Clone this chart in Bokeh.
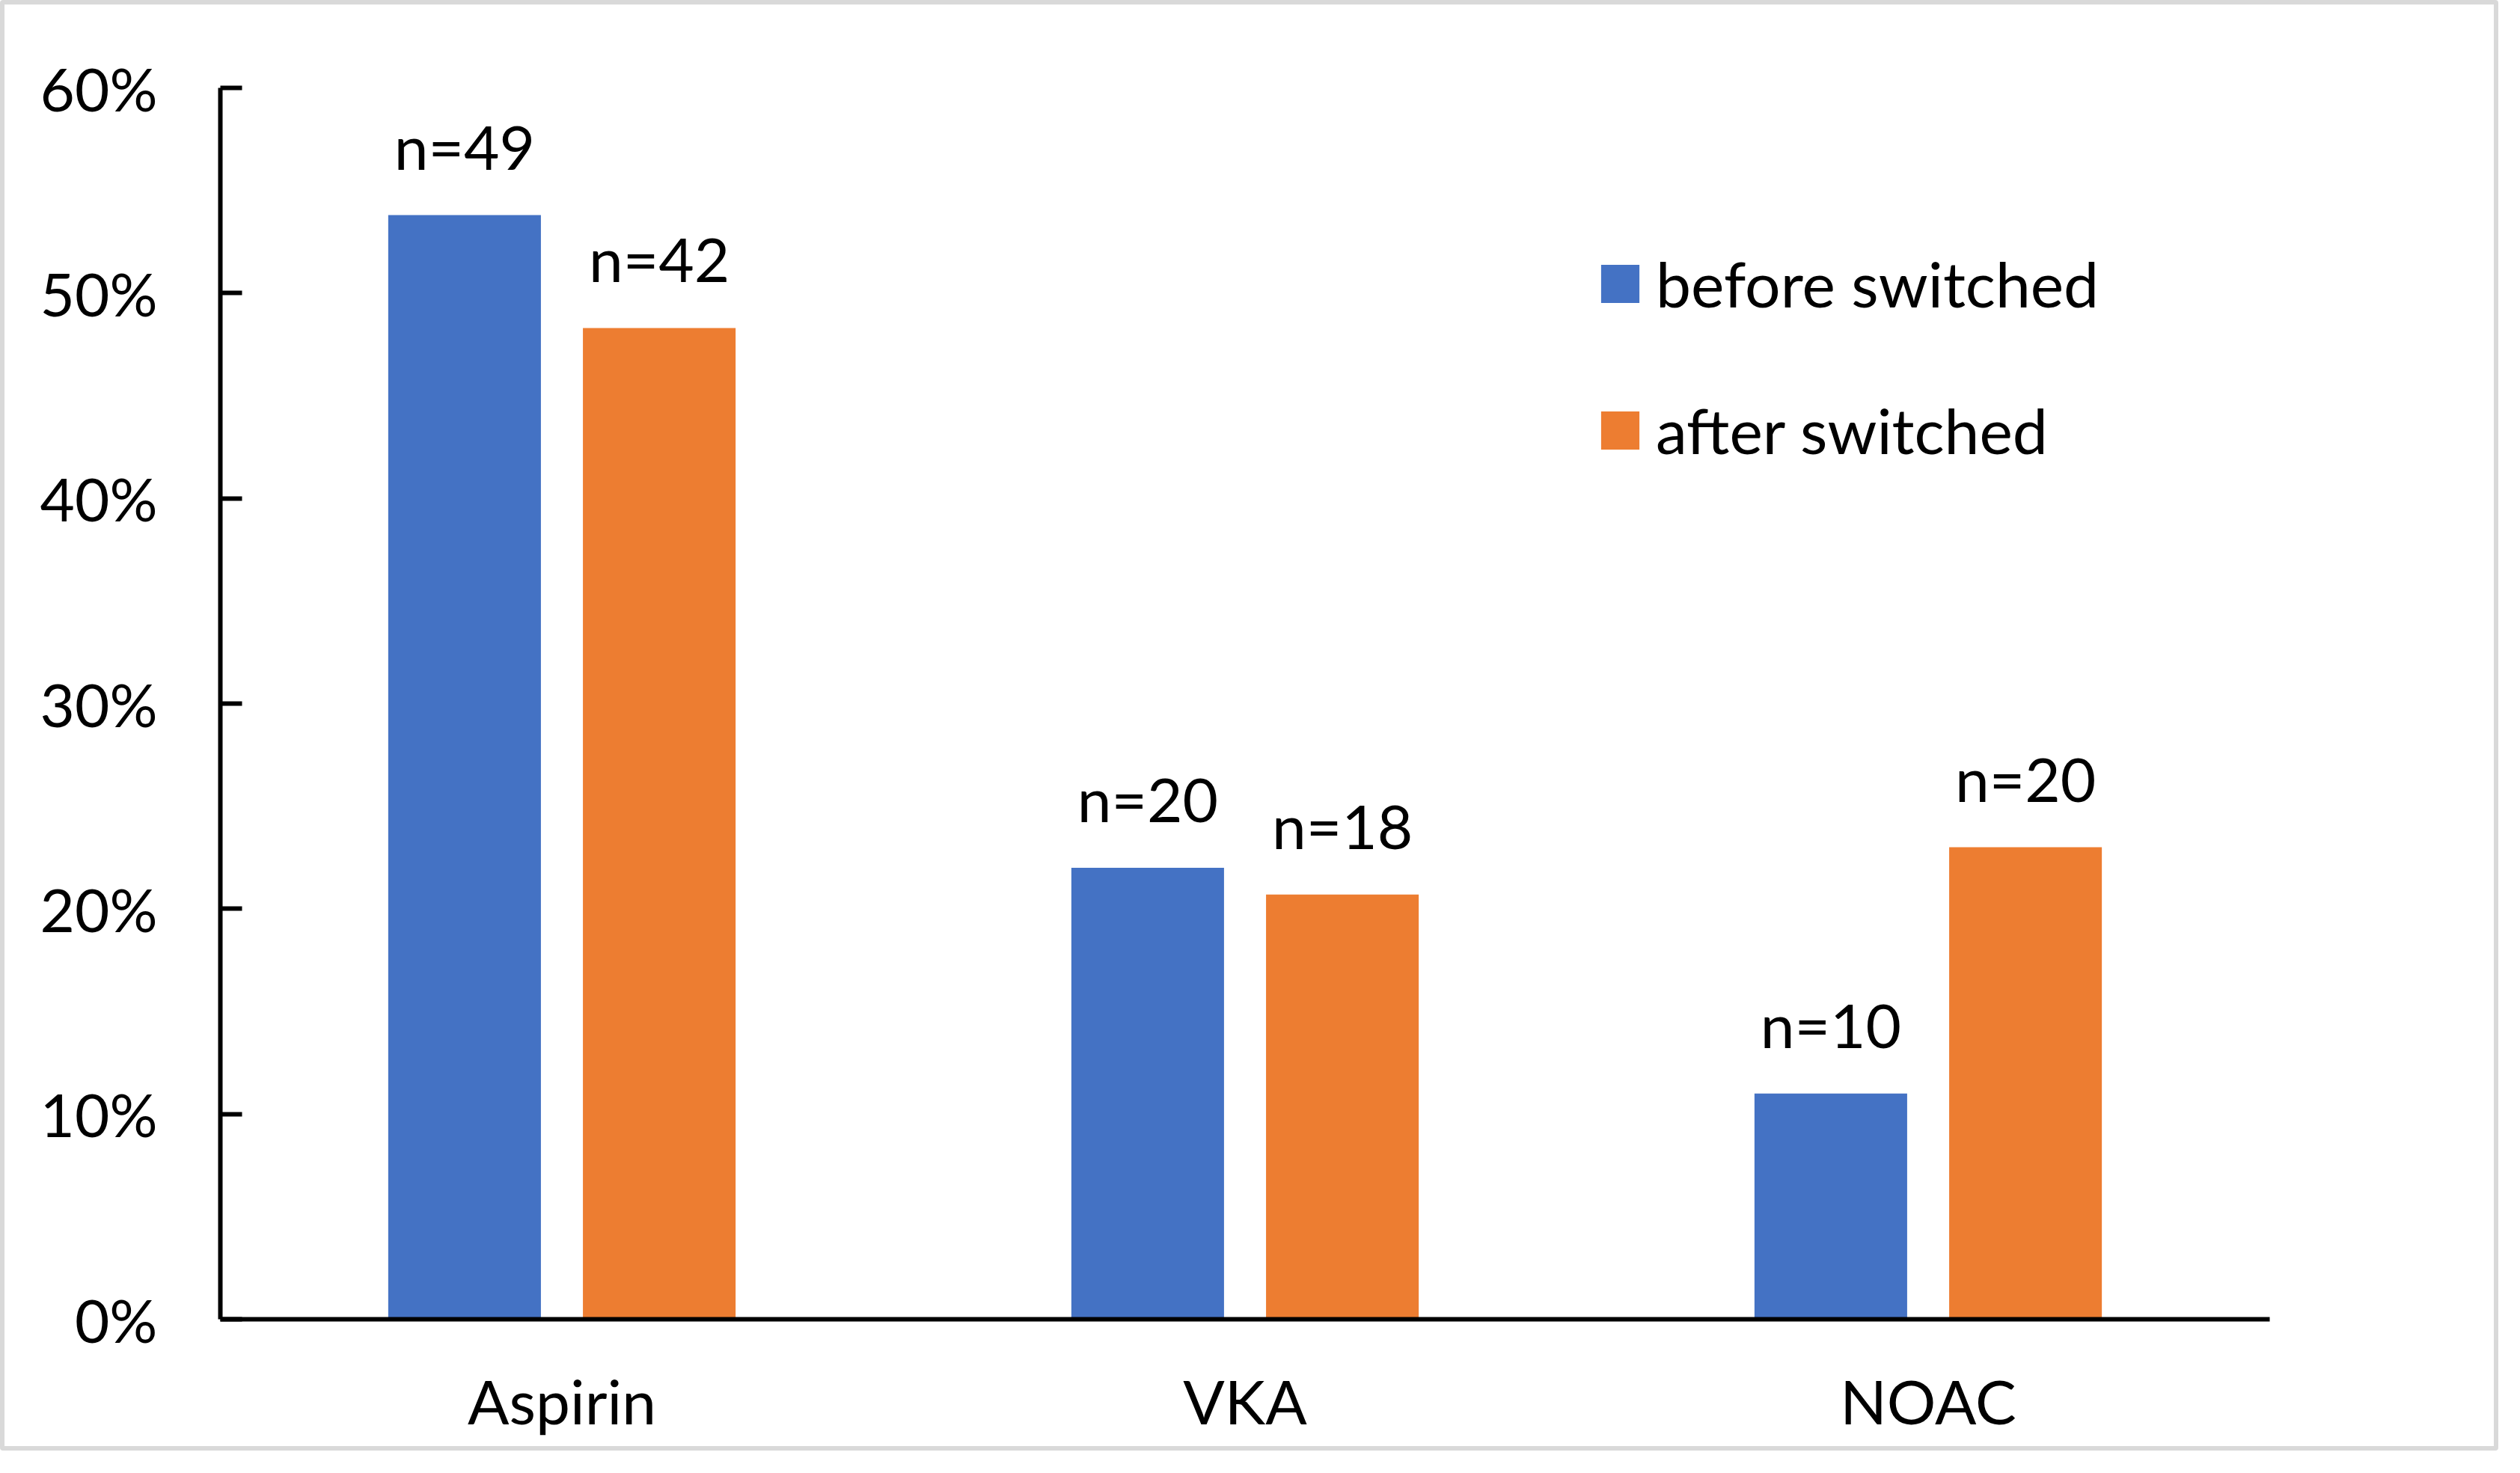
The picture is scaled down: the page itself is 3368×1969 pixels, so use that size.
from bokeh.plotting import figure
from bokeh.models import (FactorRange, Range1d, FixedTicker, PrintfTickFormatter,
                          Legend, LegendItem, ColumnDataSource)
from bokeh.transform import dodge
from bokeh.core.properties import value
from bokeh.embed import file_html
from bokeh.resources import INLINE

categories = ["Aspirin", "VKA", "NOAC"]
before_pct = [53.8, 22.0, 11.0]
after_pct = [48.3, 20.7, 23.0]
before_n = ["n=49", "n=20", "n=10"]
after_n = ["n=42", "n=18", "n=20"]
y_ticks = [0, 10, 20, 30, 40, 50, 60]
series_names = ["before switched", "after switched"]

BLUE = "#4472C4"
ORANGE = "#ED7D31"
FONT = "Lato"
FS = "80px"
FS_N = "82px"
FS_LEG = "84px"

src = ColumnDataSource(dict(cat=categories, before=before_pct, after=after_pct,
                            bn=before_n, an=after_n))

W, H = 3339, 1939
p = figure(x_range=FactorRange(*categories, range_padding=0), y_range=Range1d(0, 60),
           width=W, height=H, output_backend="svg", toolbar_location=None,
           min_border_left=288, min_border_right=312, min_border_top=111, min_border_bottom=182)
p.styles = {"border": "6px solid #d9d9d9", "border-radius": "4px"}
p.outline_line_color = None
p.xgrid.grid_line_color = None
p.ygrid.grid_line_color = None
p.background_fill_color = "white"
p.border_fill_color = "white"

off = 0.1425
bw = 0.2235
rb = p.vbar(x=dodge("cat", -off, range=p.x_range), top="before", width=bw, source=src,
            fill_color=BLUE, line_color=None)
ra = p.vbar(x=dodge("cat", off, range=p.x_range), top="after", width=bw, source=src,
            fill_color=ORANGE, line_color=None)

p.text(x=dodge("cat", -off, range=p.x_range), y="before", text="bn", source=src,
       text_align="center", text_baseline="alphabetic", y_offset=-93,
       text_font=value(FONT), text_font_size=FS_N, text_color="black")
p.text(x=dodge("cat", off, range=p.x_range), y="after", text="an", source=src,
       text_align="center", text_baseline="alphabetic", y_offset=-93,
       text_font=value(FONT), text_font_size=FS_N, text_color="black")

# y axis
p.yaxis.ticker = FixedTicker(ticks=y_ticks)
p.yaxis.formatter = PrintfTickFormatter(format="%d%%")
p.yaxis.axis_line_color = "black"
p.yaxis.axis_line_width = 6
p.yaxis.major_tick_in = 29
p.yaxis.major_tick_out = 0
p.yaxis.major_tick_line_width = 6
p.yaxis.major_tick_line_color = "black"
p.yaxis.minor_tick_line_color = None
p.yaxis.major_label_standoff = 84
p.yaxis.major_label_text_font = FONT
p.yaxis.major_label_text_font_size = FS
p.yaxis.major_label_text_color = "black"

# x axis
p.xaxis.axis_line_color = "black"
p.xaxis.axis_line_width = 6
p.xaxis.major_tick_line_color = None
p.xaxis.major_tick_in = 0
p.xaxis.major_tick_out = 0
p.xaxis.minor_tick_line_color = None
p.xaxis.major_label_standoff = 59
p.xaxis.major_label_text_font = FONT
p.xaxis.major_label_text_font_size = "82px"
p.xaxis.major_label_text_color = "black"

legend = Legend(items=[LegendItem(label=series_names[0], renderers=[rb]),
                       LegendItem(label=series_names[1], renderers=[ra])],
                location=(1839, 1138), orientation="vertical",
                padding=0, margin=0, spacing=95,
                glyph_width=64, glyph_height=64, label_standoff=16,
                label_text_font=FONT, label_text_font_size=FS_LEG,
                label_text_color="black",
                border_line_color=None, background_fill_alpha=0)
p.add_layout(legend, "center")

open("out.html", "w").write(file_html(p, INLINE))
